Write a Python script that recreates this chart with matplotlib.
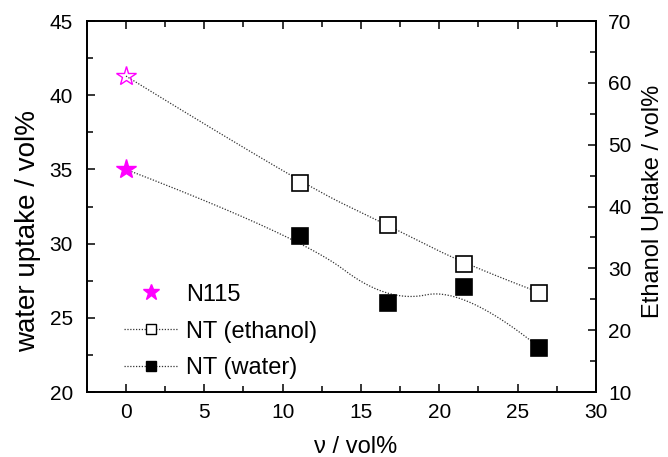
import numpy as np
import matplotlib
matplotlib.use("Agg")
import matplotlib.pyplot as plt
from matplotlib.lines import Line2D

plt.rcParams['font.family'] = ['Liberation Sans', 'DejaVu Sans']

# data
nt_x = [11.1, 16.7, 21.6, 26.4]
nt_water = [30.5, 26.0, 27.1, 23.0]      # left axis
nt_ethanol = [43.8, 37.0, 30.7, 26.1]    # right axis
n115_x = [0.0]
n115_water = [35.0]
n115_ethanol = [61.1]


def bspline(px, py, k=2, n=300):
    # clamped B-spline with the data points as control points (Origin style)
    px = np.asarray(px, float)
    py = np.asarray(py, float)
    m = len(px)
    k = min(k, m - 1)
    knots = np.concatenate([np.zeros(k), np.linspace(0, 1, m - k + 1), np.ones(k)])
    t = np.linspace(0, 1, n)
    t[-1] -= 1e-10
    B = np.zeros((n, len(knots) - 1))
    for i in range(len(knots) - 1):
        B[:, i] = (t >= knots[i]) & (t < knots[i + 1])
    for d in range(1, k + 1):
        Bn = np.zeros((n, len(knots) - 1 - d))
        for i in range(len(knots) - 1 - d):
            a = knots[i + d] - knots[i]
            b = knots[i + d + 1] - knots[i + 1]
            left = (t - knots[i]) / a * B[:, i] if a > 0 else 0
            right = (knots[i + d + 1] - t) / b * B[:, i + 1] if b > 0 else 0
            Bn[:, i] = left + right
        B = Bn
    return B @ px, B @ py


fig = plt.figure(figsize=(6.68, 4.57), dpi=100)
ax = fig.add_axes([0.130, 0.142, 0.762, 0.812])
ax2 = ax.twinx()

dots = (0, (1, 1.3))
wx = n115_x + nt_x
cx, cy = bspline(wx, n115_water + nt_water)
ax.plot(cx, cy, ls=dots, color='#333333', lw=0.9)
ex, ey = bspline(wx, n115_ethanol + nt_ethanol)
ax2.plot(ex, ey, ls=dots, color='#333333', lw=0.9)

ax.plot(nt_x, nt_water, 's', ms=11, mfc='black', mec='black', mew=1.2)
ax.plot(n115_x, n115_water, '*', ms=15, mfc='#ff00ff', mec='#ff00ff')
ax2.plot(nt_x, nt_ethanol, 's', ms=11, mfc='white', mec='black', mew=1.2)
ax2.plot(n115_x, n115_ethanol, '*', ms=15, mfc='none', mec='#ff00ff', mew=1.0)

ax.set_xlim(-2.5, 30)
ax.set_ylim(20, 45)
ax2.set_ylim(10, 70)
ax.set_xticks(np.arange(0, 31, 5))
ax.set_xticks(np.arange(-2.5, 30.1, 2.5), minor=True)
ax.set_yticks(np.arange(20, 46, 5))
ax.set_yticks(np.arange(20, 45.1, 2.5), minor=True)
ax2.set_yticks(np.arange(10, 71, 10))
ax2.set_yticks(np.arange(10, 70.1, 5), minor=True)

ax.tick_params(which='both', direction='in', top=True, labelsize=15, width=1.1)
ax.tick_params(axis='y', which='major', pad=10)
ax.tick_params(axis='x', which='major', pad=8)
ax.tick_params(which='major', length=6)
ax.tick_params(which='minor', length=4)
ax2.tick_params(which='both', direction='in', labelsize=15, width=1.1)
ax2.tick_params(which='major', length=6, pad=9)
ax2.tick_params(which='minor', length=4)
for a in (ax, ax2):
    for s in a.spines.values():
        s.set_linewidth(1.3)

ax.set_xlabel('ν / vol%', fontsize=17)
ax.xaxis.set_label_coords(0.528, -0.117)
ax.set_ylabel('water uptake / vol%', fontsize=20)
ax.yaxis.set_label_coords(-0.09, 0.434)
ax2.set_ylabel('Ethanol Uptake / vol%', fontsize=17)
ax2.yaxis.set_label_coords(1.09, 0.515)

handles = [
    Line2D([], [], ls='none', marker='*', ms=12, mfc='#ff00ff', mec='#ff00ff'),
    Line2D([], [], ls=dots, color='#333333', lw=0.9, marker='s', ms=7.5,
           mfc='white', mec='black', mew=1.0),
    Line2D([], [], ls=dots, color='#333333', lw=0.9, marker='s', ms=7.5,
           mfc='black', mec='black', mew=1.0),
]
ax2.legend(handles, ['N115', 'NT (ethanol)', 'NT (water)'], loc='upper left',
           bbox_to_anchor=(0.073, 0.292), frameon=False, fontsize=17,
           handlelength=2.25, handletextpad=0.38, labelspacing=0.63,
           borderpad=0, borderaxespad=0)

fig.savefig('out.png', dpi=100)
